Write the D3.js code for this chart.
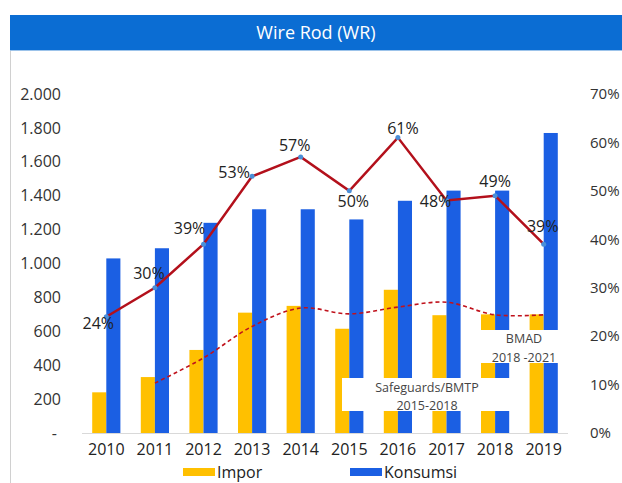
<!DOCTYPE html>
<html>
<head>
<meta charset="utf-8">
<script src="https://cdnjs.cloudflare.com/ajax/libs/d3/7.8.5/d3.min.js"></script>
<style>
  body { margin: 0; background: #fff; }
  text { font-family: "Open Sans", "Noto Sans", sans-serif; }
</style>
</head>
<body>
<svg id="chart" width="622" height="483"></svg>
<script>
// data
var years = ["2010", "2011", "2012", "2013", "2014", "2015", "2016", "2017", "2018", "2019"];
var impor = [240, 330, 490, 710, 750, 615, 845, 695, 700, 700];
var konsumsi = [1030, 1090, 1240, 1320, 1320, 1260, 1370, 1430, 1430, 1770];
var rasio = [24, 30, 39, 53, 57, 50, 61, 48, 49, 39];          // solid red line, %
var trend = [null, 10.3, 15.5, 22, 25.8, 24.6, 26, 27, 24.4, 24.4]; // dashed red line, %
var leftTicks = [0, 200, 400, 600, 800, 1000, 1200, 1400, 1600, 1800, 2000];
var rightTicks = [0, 10, 20, 30, 40, 50, 60, 70];

// label placement for the % labels (dx, dy from the point)
var labelPos = [[-8, 12], [-6, -9], [-14, -10], [-18, 2], [-6, -6], [4, 16], [5, -4], [-11, 6], [0, -9], [-1, -12]];

var svg = d3.select("#chart"),
    width = +svg.attr("width"),
    height = +svg.attr("height");

// frame + title bar
svg.append("line").attr("x1", 10.5).attr("x2", 10.5).attr("y1", 50).attr("y2", height)
  .attr("stroke", "#d0d0d0").attr("stroke-width", 1);
svg.append("rect").attr("x", 10).attr("y", 15).attr("width", width - 10).attr("height", 35)
  .attr("fill", "#0b6dd3");
svg.append("line").attr("x1", 10).attr("x2", width).attr("y1", 50.5).attr("y2", 50.5)
  .attr("stroke", "#9cc3ea").attr("stroke-width", 1);
svg.append("text").attr("x", 316).attr("y", 39).attr("text-anchor", "middle")
  .attr("fill", "#fff").attr("font-size", 18).text("Wire Rod (WR)");

var x = d3.scaleBand().domain(years).range([82, 568]).paddingInner(0.42).paddingOuter(0.21);
var y = d3.scaleLinear().domain([0, 2000]).range([433, 94]);
var yr = d3.scaleLinear().domain([0, 70]).range([433, 94]);
var half = x.bandwidth() / 2;
var cx = function(i) { return x(years[i]) + half; };

// left axis
var leftAxis = d3.axisLeft(y).tickValues(leftTicks).tickSize(0).tickPadding(0)
  .tickFormat(function(d) { return d == 0 ? "-" : d3.format(",")(d).replace(",", "."); });
var gl = svg.append("g").attr("transform", "translate(61,0)").call(leftAxis);
gl.select(".domain").remove();
gl.selectAll("text").attr("font-size", 16).attr("fill", "#333").attr("font-family", "Open Sans, sans-serif");
gl.selectAll(".tick").filter(function(d) { return d == 0; }).select("text").attr("dx", -4);

// right axis
var rightAxis = d3.axisRight(yr).tickValues(rightTicks).tickSize(0).tickPadding(0)
  .tickFormat(function(d) { return d + "%"; });
var gr = svg.append("g").attr("transform", "translate(590,0)").call(rightAxis);
gr.select(".domain").remove();
gr.selectAll("text").attr("font-size", 15).attr("fill", "#333").attr("font-family", "Open Sans, sans-serif");

// year axis
var bottomAxis = d3.axisBottom(x).tickSize(0).tickPadding(0);
var gb = svg.append("g").attr("transform", "translate(0,444)").call(bottomAxis);
gb.select(".domain").remove();
gb.selectAll("text").attr("font-size", 16).attr("fill", "#222").attr("font-family", "Open Sans, sans-serif");

// baseline
svg.append("line").attr("x1", 82).attr("x2", 568).attr("y1", 433.5).attr("y2", 433.5)
  .attr("stroke", "#d9d9d9");

// bars
svg.append("g").selectAll("rect").data(impor).enter().append("rect")
  .attr("x", function(d, i) { return x(years[i]); })
  .attr("y", function(d) { return y(d); })
  .attr("width", half)
  .attr("height", function(d) { return y(0) - y(d); })
  .attr("fill", "#ffc000");
svg.append("g").selectAll("rect").data(konsumsi).enter().append("rect")
  .attr("x", function(d, i) { return x(years[i]) + half; })
  .attr("y", function(d) { return y(d); })
  .attr("width", half)
  .attr("height", function(d) { return y(0) - y(d); })
  .attr("fill", "#1b5fe3");

// annotation boxes (white boxes over the bars)
svg.append("rect").attr("x", 342).attr("y", 378).attr("width", 170).attr("height", 33).attr("fill", "#fff");
svg.append("text").attr("x", 427).attr("y", 392).attr("text-anchor", "middle")
  .attr("font-size", 12.5).attr("fill", "#444").text("Safeguards/BMTP");
svg.append("text").attr("x", 427).attr("y", 410).attr("text-anchor", "middle")
  .attr("font-size", 12.5).attr("fill", "#444").text("2015-2018");

svg.append("rect").attr("x", 478).attr("y", 330).attr("width", 90).attr("height", 33).attr("fill", "#fff");
svg.append("text").attr("x", 524).attr("y", 343).attr("text-anchor", "middle")
  .attr("font-size", 12.5).attr("fill", "#444").text("BMAD");
svg.append("text").attr("x", 524).attr("y", 362).attr("text-anchor", "middle")
  .attr("font-size", 12.5).attr("fill", "#444").text("2018 -2021");

// dashed trend
var dashLine = d3.line()
  .defined(function(d) { return d != null; })
  .x(function(d, i) { return cx(i); })
  .y(function(d) { return yr(d); })
  .curve(d3.curveCatmullRom.alpha(0.5));
svg.append("path").datum(trend).attr("d", dashLine)
  .attr("fill", "none").attr("stroke", "#c0121c").attr("stroke-width", 1.6)
  .attr("stroke-dasharray", "4,3");

// solid ratio line
var line = d3.line()
  .x(function(d, i) { return cx(i); })
  .y(function(d) { return yr(d); });
svg.append("path").datum(rasio).attr("d", line)
  .attr("fill", "none").attr("stroke", "#b3101b").attr("stroke-width", 2.5);
svg.append("g").selectAll("circle").data(rasio).enter().append("circle")
  .attr("cx", function(d, i) { return cx(i); })
  .attr("cy", function(d) { return yr(d); })
  .attr("r", 2.5).attr("fill", "#4a8fd8");
svg.append("g").selectAll("text").data(rasio).enter().append("text")
  .attr("x", function(d, i) { return cx(i) + labelPos[i][0]; })
  .attr("y", function(d, i) { return yr(d) + labelPos[i][1]; })
  .attr("text-anchor", "middle")
  .attr("font-size", 16).attr("fill", "#222")
  .text(function(d) { return d + "%"; });

// legend
var legend = [["Impor", "#ffc000", 183], ["Konsumsi", "#1b5fe3", 350]];
var lg = svg.append("g").selectAll("g").data(legend).enter().append("g");
lg.append("rect").attr("x", function(d) { return d[2]; }).attr("y", 468)
  .attr("width", 32).attr("height", 8).attr("fill", function(d) { return d[1]; });
lg.append("text").attr("x", function(d) { return d[2] + 34; }).attr("y", 478)
  .attr("font-size", 16).attr("fill", "#222").text(function(d) { return d[0]; });
</script>
</body>
</html>
